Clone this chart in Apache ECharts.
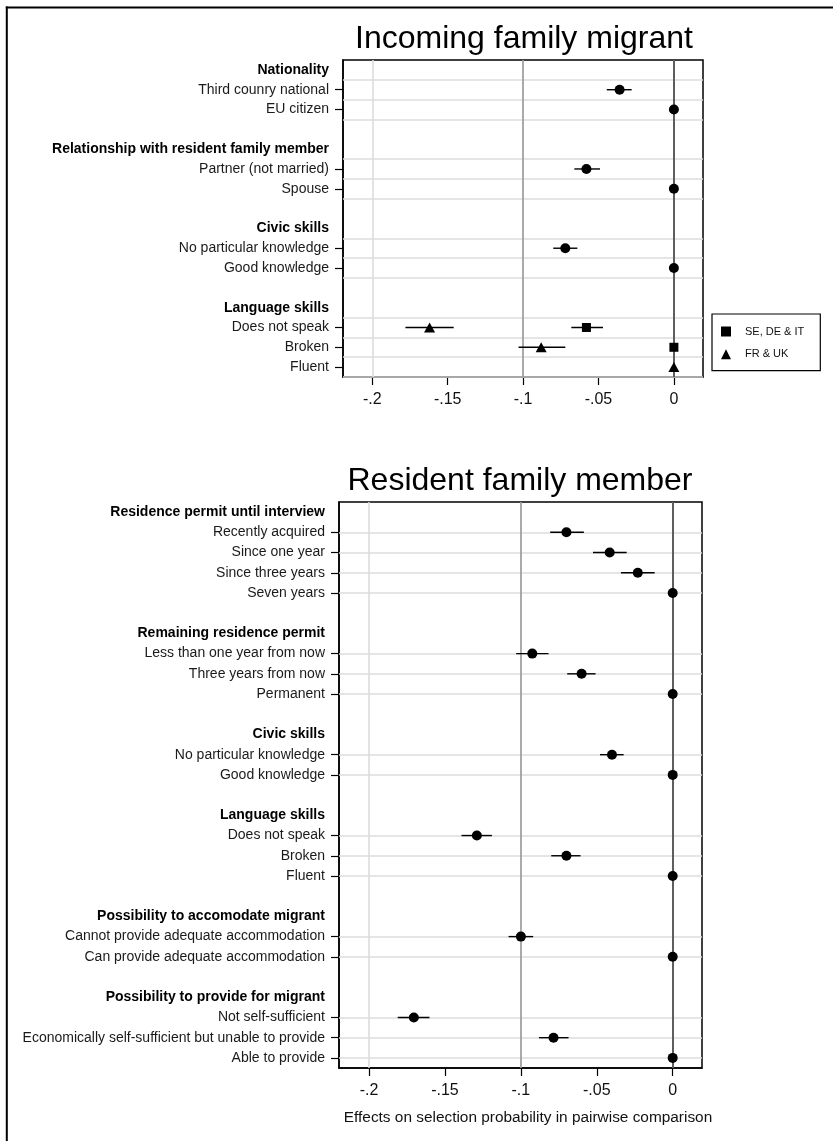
<!DOCTYPE html>
<html>
<head>
<meta charset="utf-8">
<script src="https://cdn.jsdelivr.net/npm/echarts@6/dist/echarts.min.js"></script>
<style>
  html, body { margin: 0; padding: 0; background: #fff; }
  #chart { width: 833px; height: 1141px; }
</style>
</head>
<body>
<div id="chart"></div>
<script>
// ---- Row structure: upper panel (incoming family migrant) ----
const incomingRows = [
  'Nationality', 'Third counry national', 'EU citizen', '',
  'Relationship with resident family member', 'Partner (not married)', 'Spouse', '',
  'Civic skills', 'No particular knowledge', 'Good knowledge', '',
  'Language skills', 'Does not speak', 'Broken', 'Fluent'
];
const incomingHeaders = ['Nationality', 'Relationship with resident family member', 'Civic skills', 'Language skills'];

// Pooled estimates (circles)
const incomingLevels = ['Third counry national', 'EU citizen', 'Partner (not married)', 'Spouse', 'No particular knowledge', 'Good knowledge'];
const incomingEst = [-0.036, 0, -0.058, 0, -0.072, 0];
const incomingLo  = [-0.0445, null, -0.066, null, -0.080, null];
const incomingHi  = [-0.028, null, -0.049, null, -0.064, null];

// Language skills by country group
const languageLevels = ['Does not speak', 'Broken', 'Fluent'];
const seDeItEst = [-0.058, 0, null];
const seDeItLo  = [-0.068, null, null];
const seDeItHi  = [-0.047, null, null];
const frUkEst = [-0.162, -0.088, 0];
const frUkLo  = [-0.178, -0.103, null];
const frUkHi  = [-0.146, -0.072, null];

// ---- Row structure: lower panel (resident family member) ----
const residentRows = [
  'Residence permit until interview', 'Recently acquired', 'Since one year', 'Since three years', 'Seven years', '',
  'Remaining residence permit', 'Less than one year from now', 'Three years from now', 'Permanent', '',
  'Civic skills', 'No particular knowledge', 'Good knowledge', '',
  'Language skills', 'Does not speak', 'Broken', 'Fluent', '',
  'Possibility to accomodate migrant', 'Cannot provide adequate accommodation', 'Can provide adequate accommodation', '',
  'Possibility to provide for migrant', 'Not self-sufficient', 'Economically self-sufficient but unable to provide', 'Able to provide'
];
const residentHeaders = ['Residence permit until interview', 'Remaining residence permit', 'Civic skills', 'Language skills',
  'Possibility to accomodate migrant', 'Possibility to provide for migrant'];
const residentLevels = [
  'Recently acquired', 'Since one year', 'Since three years', 'Seven years',
  'Less than one year from now', 'Three years from now', 'Permanent',
  'No particular knowledge', 'Good knowledge',
  'Does not speak', 'Broken', 'Fluent',
  'Cannot provide adequate accommodation', 'Can provide adequate accommodation',
  'Not self-sufficient', 'Economically self-sufficient but unable to provide', 'Able to provide'
];
const residentEst = [-0.070, -0.0415, -0.023, 0, -0.0925, -0.060, 0, -0.040, 0, -0.129, -0.070, 0, -0.100, 0, -0.1705, -0.0785, 0];
const residentLo  = [-0.0807, -0.0525, -0.0341, null, -0.1031, -0.0695, null, -0.0479, null, -0.1391, -0.080, null, -0.1081, null, -0.1811, -0.0881, null];
const residentHi  = [-0.0585, -0.0303, -0.0119, null, -0.0818, -0.0508, null, -0.0323, null, -0.1191, -0.0607, null, -0.0919, null, -0.1602, -0.0686, null];

// ---- X axis ticks ----
const tickValues = [-0.2, -0.15, -0.1, -0.05, 0];
const tickLabels = ['-.2', '-.15', '-.1', '-.05', '0'];
const refLineValues = [-0.2, -0.1, 0];

const FONT = '"Liberation Sans", Arial, Helvetica, sans-serif';
const refLineColors = ['#dcdcdc', '#9c9c9c', '#5e5e5e'];
const refLineWidths = [1.6, 1.7, 2];

function points(rows, levels, est) {
  const out = [];
  levels.forEach((lv, i) => { if (est[i] !== null) out.push([est[i], rows.indexOf(lv)]); });
  return out;
}
function bars(rows, levels, lo, hi) {
  const out = [];
  levels.forEach((lv, i) => { if (lo[i] !== null) out.push([lo[i], hi[i], rows.indexOf(lv)]); });
  return out;
}
function itemRows(rows, headers) {
  return rows.map((r, i) => (r && !headers.includes(r)) ? i : -1).filter(i => i >= 0);
}

function xAxisFor(gridIndex, min, max) {
  return {
    type: 'value', gridIndex, min, max, position: 'bottom',
    axisLine: { show: true, onZero: false, lineStyle: { color: '#000', width: 1.5 } },
    splitLine: { show: false },
    axisTick: { show: true, customValues: tickValues, length: 8, lineStyle: { color: '#000', width: 1.2 } },
    axisLabel: {
      customValues: tickValues, margin: 15, fontSize: 16, fontFamily: FONT, color: '#111',
      formatter: v => tickLabels[tickValues.findIndex(t => Math.abs(t - v) < 1e-9)]
    }
  };
}
function yAxisFor(gridIndex, rows, headers) {
  const labelIdx = rows.map((r, i) => r ? i : -1).filter(i => i >= 0);
  return {
    type: 'value', gridIndex, inverse: true, min: -0.5, max: rows.length - 0.5, position: 'left',
    axisLine: { show: true, onZero: false, lineStyle: { color: '#000', width: 1.5 } },
    splitLine: { show: false },
    axisTick: { show: true, customValues: itemRows(rows, headers), length: 8, lineStyle: { color: '#000', width: 1.2 } },
    axisLabel: {
      customValues: labelIdx, margin: 14, fontSize: 14, fontFamily: FONT, color: '#1a1a1a',
      formatter: v => {
        const t = rows[Math.round(v)];
        return headers.includes(t) ? '{h|' + t + '}' : t;
      },
      rich: { h: { fontWeight: 'bold', fontSize: 14, fontFamily: FONT, color: '#000' } }
    }
  };
}

function guideSeries(gi, hLines) {
  const data = hLines.map(v => ({ yAxis: v, lineStyle: { color: '#dcdcdc', width: 1.5, type: 'solid' } }))
    .concat(refLineValues.map((v, i) => ({ xAxis: v, lineStyle: { color: refLineColors[i], width: refLineWidths[i], type: 'solid' } })));
  return {
    type: 'scatter', name: 'guides' + gi, xAxisIndex: gi, yAxisIndex: gi, data: [], z: 1,
    markLine: { silent: true, symbol: ['none', 'none'], label: { show: false }, animation: false, data }
  };
}
let ciCount = 0;
function errorSeries(gi, data) {
  ciCount += 1;
  return {
    type: 'custom', name: 'ci' + ciCount,
    xAxisIndex: gi, yAxisIndex: gi, z: 10, silent: true,
    encode: { x: [0, 1], y: 2 },
    renderItem: (params, api) => {
      const a = api.coord([api.value(0), api.value(2)]);
      const b = api.coord([api.value(1), api.value(2)]);
      return { type: 'line', z2: 10, shape: { x1: a[0], y1: a[1], x2: b[0], y2: b[1] }, style: { stroke: '#000', lineWidth: 1.4 } };
    },
    data
  };
}
function markerSeries(gi, name, symbol, size, data) {
  return {
    type: 'scatter', name, xAxisIndex: gi, yAxisIndex: gi, z: 12, symbol, symbolSize: size,
    itemStyle: { color: '#000', opacity: 1 }, data
  };
}

// Upper panel gridlines sit half a row above and below each level row
const incomingItems = itemRows(incomingRows, incomingHeaders);
const incomingGrid = [...new Set(incomingItems.flatMap(r => [r - 0.5, r + 0.5]))];
const residentGrid = itemRows(residentRows, residentHeaders);

const chart = echarts.init(document.getElementById('chart'), null, { renderer: 'canvas' });
chart.setOption({
  animation: false,
  backgroundColor: '#fff',
  textStyle: { fontFamily: FONT },
  grid: [
    { left: 343, top: 60, width: 360, height: 317, show: true, borderColor: '#000', borderWidth: 1.5, backgroundColor: '#fff' },
    { left: 339, top: 502, width: 363, height: 566, show: true, borderColor: '#000', borderWidth: 1.5, backgroundColor: '#fff' }
  ],
  xAxis: [xAxisFor(0, -0.2194, 0.0193), xAxisFor(1, -0.2198, 0.0193)],
  yAxis: [yAxisFor(0, incomingRows, incomingHeaders), yAxisFor(1, residentRows, residentHeaders)],
  legend: {
    data: [{ name: 'SE, DE & IT', icon: 'rect' }, { name: 'FR & UK', icon: 'triangle' }],
    orient: 'vertical', left: 712, top: 314,
    padding: [12, 16, 11, 9], itemWidth: 10, itemHeight: 10, itemGap: 11.7,
    borderColor: '#000', borderWidth: 1.2, backgroundColor: '#fff',
    textStyle: { fontSize: 11, fontFamily: FONT, color: '#111', lineHeight: 10, padding: [0, 0, 0, 9] },
    selectedMode: false
  },
  graphic: [
    { type: 'text', x: 524, y: 39, style: { text: 'Incoming family migrant', fontSize: 32, fontFamily: FONT, fill: '#000', align: 'center', verticalAlign: 'middle', textAlign: 'center', textVerticalAlign: 'middle' } },
    { type: 'text', x: 520, y: 481, style: { text: 'Resident family member', fontSize: 32, fontFamily: FONT, fill: '#000', align: 'center', verticalAlign: 'middle', textAlign: 'center', textVerticalAlign: 'middle' } },
    { type: 'text', x: 528, y: 1118, style: { text: 'Effects on selection probability in pairwise comparison', fontSize: 15.4, fontFamily: FONT, fill: '#111', align: 'center', verticalAlign: 'middle', textAlign: 'center', textVerticalAlign: 'middle' } },
    { type: 'line', shape: { x1: 6.8, y1: 6.5, x2: 6.8, y2: 1141 }, style: { stroke: '#000', lineWidth: 2 } },
    { type: 'line', shape: { x1: 5.8, y1: 7.5, x2: 833, y2: 7.5 }, style: { stroke: '#000', lineWidth: 2 } }
  ],
  series: [
    guideSeries(0, incomingGrid),
    errorSeries(0, bars(incomingRows, incomingLevels, incomingLo, incomingHi)),
    errorSeries(0, bars(incomingRows, languageLevels, seDeItLo, seDeItHi)),
    errorSeries(0, bars(incomingRows, languageLevels, frUkLo, frUkHi)),
    markerSeries(0, 'Pooled', 'circle', 10, points(incomingRows, incomingLevels, incomingEst)),
    markerSeries(0, 'SE, DE & IT', 'rect', 9, points(incomingRows, languageLevels, seDeItEst)),
    markerSeries(0, 'FR & UK', 'triangle', [11, 10], points(incomingRows, languageLevels, frUkEst)),
    guideSeries(1, residentGrid),
    errorSeries(1, bars(residentRows, residentLevels, residentLo, residentHi)),
    markerSeries(1, 'Resident', 'circle', 10, points(residentRows, residentLevels, residentEst))
  ]
});
</script>
</body>
</html>
